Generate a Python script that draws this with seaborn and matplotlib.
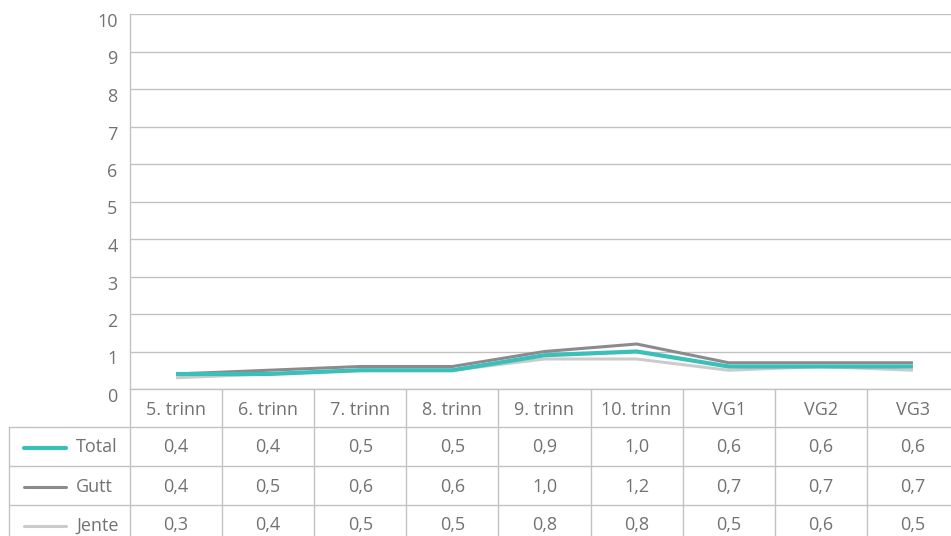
import pandas as pd
import seaborn as sns
import matplotlib.pyplot as plt
from matplotlib.transforms import blended_transform_factory, ScaledTranslation

categories = ["5. trinn", "6. trinn", "7. trinn", "8. trinn", "9. trinn",
              "10. trinn", "VG1", "VG2", "VG3"]
total = [0.4, 0.4, 0.5, 0.5, 0.9, 1.0, 0.6, 0.6, 0.6]
gutt = [0.4, 0.5, 0.6, 0.6, 1.0, 1.2, 0.7, 0.7, 0.7]
jente = [0.3, 0.4, 0.5, 0.5, 0.8, 0.8, 0.5, 0.6, 0.5]
series_names = ["Total", "Gutt", "Jente"]
y_ticks = list(range(0, 11))

colors = {"Total": "#3bbfba", "Gutt": "#8b8b8f", "Jente": "#cbcbcb"}
widths = {"Total": 3.0, "Gutt": 2.2, "Jente": 2.2}
grid_c = "#c2c2c2"
text_c = "#727272"
fs = 13

sns.set_theme(style="white")
plt.rcParams["font.family"] = ["Open Sans", "DejaVu Sans"]

df = pd.DataFrame({"Trinn": categories, "Total": total, "Gutt": gutt, "Jente": jente})
long_df = df.melt(id_vars="Trinn", var_name="Serie", value_name="Verdi")

W, H = 951, 536
fig = plt.figure(figsize=(W / 100, H / 100), dpi=100)
ax = fig.add_axes([130 / W, (H - 389) / H, 829 / W, 375 / H])

for name in ["Jente", "Gutt", "Total"]:
    sns.lineplot(data=long_df[long_df["Serie"] == name], x="Trinn", y="Verdi",
                 color=colors[name], linewidth=widths[name], sort=False,
                 legend=False, ax=ax, solid_capstyle="butt")

ax.set_xlim(-0.5, len(categories) - 0.5)
ax.set_ylim(0, 10)
ax.set_yticks(y_ticks)
ax.set_yticklabels([str(t) for t in y_ticks])
ax.set_xticks(range(len(categories)))
ax.set_xticklabels(categories)
ax.set_xlabel("")
ax.set_ylabel("")
ax.grid(axis="y", color=grid_c, linewidth=1.0)
ax.tick_params(axis="x", length=0, pad=8.5, labelsize=fs, labelcolor=text_c)
ax.tick_params(axis="y", length=0, pad=9, labelsize=fs, labelcolor=text_c)
for lab in ax.get_yticklabels():
    lab.set_transform(lab.get_transform() + ScaledTranslation(0, -6 / 100, fig.dpi_scale_trans))
for side in ["top", "right"]:
    ax.spines[side].set_visible(False)
for side in ["left", "bottom"]:
    ax.spines[side].set_color(grid_c)
    ax.spines[side].set_linewidth(1.0)

# data table below the chart
tr = blended_transform_factory(ax.transData, fig.transFigure)
row_h = 39
y_head_bot = 427
row_tops = [y_head_bot + i * row_h for i in range(len(series_names))]
for k in range(len(categories) + 1):
    ax.plot([k - 0.5, k - 0.5], [(H - 389) / H, (H - 560) / H], color=grid_c,
            linewidth=1.0, transform=tr, clip_on=False)
fig.add_artist(plt.Line2D([9 / W, 9 / W], [(H - y_head_bot) / H, 0], color=grid_c, linewidth=1.0))
for top in row_tops:
    fig.add_artist(plt.Line2D([9 / W, 1], [(H - top) / H] * 2, color=grid_c, linewidth=1.0))

values = {"Total": total, "Gutt": gutt, "Jente": jente}
for top, name in zip(row_tops, series_names):
    yc = (H - (top + row_h / 2 + 1)) / H
    fig.add_artist(plt.Line2D([24 / W, 66 / W], [yc, yc], color=colors[name], linewidth=widths[name]))
    fig.text(76 / W, yc, name, ha="left", va="center", fontsize=fs, color=text_c)
    for i, v in enumerate(values[name]):
        ax.text(i, yc, f"{v:.1f}".replace(".", ","), transform=tr, ha="center",
                va="center", fontsize=fs, color=text_c, clip_on=False)

fig.savefig("out.png", dpi=100)
